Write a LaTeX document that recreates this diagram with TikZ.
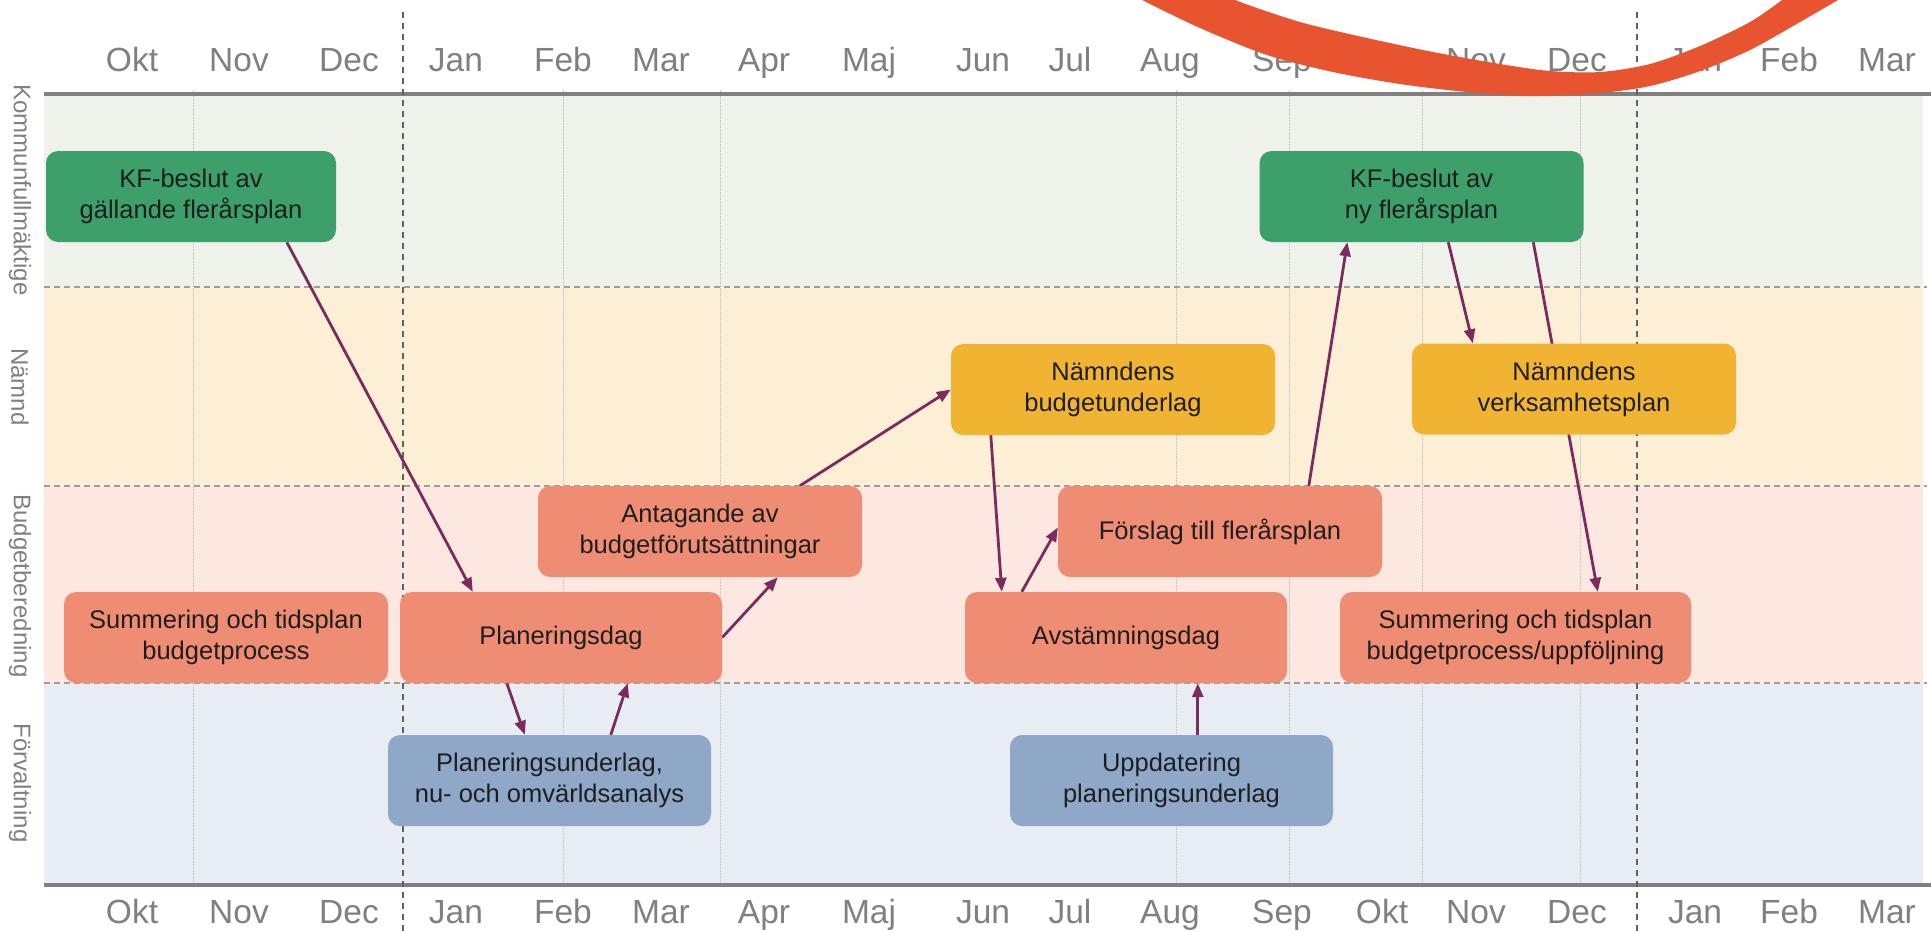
\documentclass[tikz,border=0pt]{standalone}
\usepackage{fontspec}
\setmainfont{Liberation Sans}
\usetikzlibrary{arrows.meta}
\definecolor{bandK}{HTML}{EFF2EB}
\definecolor{bandN}{HTML}{FCEFD6}
\definecolor{bandB}{HTML}{FCE8E1}
\definecolor{bandF}{HTML}{E8ECF3}
\definecolor{cgreen}{HTML}{3DA06B}
\definecolor{cyellow}{HTML}{F0B432}
\definecolor{csalmon}{HTML}{EF8D74}
\definecolor{cblue}{HTML}{8FA8C8}
\definecolor{carrow}{HTML}{7B2C5E}
\definecolor{cswoosh}{HTML}{E85430}
\definecolor{clabel}{HTML}{808080}
\definecolor{ctext}{HTML}{1E1E1E}
\pgfdeclarelayer{bg}
\pgfdeclarelayer{arr}
\pgfsetlayers{bg,arr,main}
\begin{document}
\begin{tikzpicture}[x=1pt,y=-1pt,
  box/.style={rounded corners=12pt, minimum width=324pt, minimum height=91pt, inner sep=0pt, align=center, text=ctext, font=\fontsize{25.5}{31}\selectfont},
  month/.style={anchor=base, text=clabel, font=\fontsize{33.5}{40}\selectfont},
  lane/.style={rotate=-90, text=clabel, font=\fontsize{24}{28}\selectfont},
  flow/.style={draw=carrow, line width=2.8pt, -{Triangle[length=14pt,width=11pt]}},
  divider/.style={draw=black!38, line width=1.6pt, dash pattern=on 6pt off 4pt},
  yearline/.style={draw=black!62, line width=1.4pt, dash pattern=on 6pt off 5pt},
  gridline/.style={draw=black!22, line width=1pt, dash pattern=on 1.5pt off 1.5pt},
  axisline/.style={draw=black!50, line width=4pt}
]
\useasboundingbox (0,0) rectangle (1931,932);

\begin{pgfonlayer}{bg}
\fill[white] (0,0) rectangle (1931,932);
\fill[bandK] (44,96) rectangle (1923,287);
\fill[bandN] (44,287) rectangle (1923,486);
\fill[bandB] (44,486) rectangle (1923,683);
\fill[bandF] (44,683) rectangle (1923,884);
\foreach \gx in {193,563,720,1176,1289,1422,1580}
  \draw[gridline] (\gx,90) -- (\gx,884);
\foreach \dy in {287,486,683}
  \draw[divider] (44,\dy) -- (1927,\dy);
\draw[axisline] (44,94) -- (1931,94);
\draw[axisline] (44,885) -- (1931,885);
\draw[yearline] (403,12) -- (403,932);
\draw[yearline] (1637,12) -- (1637,932);
\end{pgfonlayer}

% lane labels
\node[lane] (lk) at (20,190) {Kommunfullmäktige};
\node[lane] (ln) at (20,387) {Nämnd};
\node[lane] (lb) at (20,586) {Budgetberedning};
\node[lane] (lf) at (20,783) {Förvaltning};

% months
\foreach \mx/\mm [count=\i] in {132/Okt,239/Nov,349/Dec,456/Jan,563/Feb,661/Mar,764/Apr,869/Maj,983/Jun,1070/Jul,1170/Aug,1282/Sep,1382/Okt,1476/Nov,1577/Dec,1695/Jan,1789/Feb,1887/Mar}{
  \node[month] (mt\i) at (\mx,71) {\mm};
  \node[month] (mb\i) at (\mx,923) {\mm};
}

% boxes
\node[box, fill=cgreen, minimum width=290pt] (kfa) at (191,196.5) {KF-beslut av\\gällande flerårsplan};
\node[box, fill=cgreen] (kfb) at (1421.5,196.5) {KF-beslut av\\ny flerårsplan};
\node[box, fill=cyellow] (nb) at (1113,389.5) {Nämndens\\budgetunderlag};
\node[box, fill=cyellow] (nv) at (1574,389) {Nämndens\\verksamhetsplan};
\node[box, fill=csalmon] (ant) at (700,531.5) {Antagande av\\budgetförutsättningar};
\node[box, fill=csalmon] (fsl) at (1220,531.5) {Förslag till flerårsplan};
\node[box, fill=csalmon] (sum1) at (226,637.5) {Summering och tidsplan\\budgetprocess};
\node[box, fill=csalmon, minimum width=322pt] (pd) at (561,637.5) {Planeringsdag};
\node[box, fill=csalmon, minimum width=322pt] (avst) at (1126,637.5) {Avstämningsdag};
\node[box, fill=csalmon, minimum width=351pt] (sum2) at (1515.5,637.5) {Summering och tidsplan\\budgetprocess/uppföljning};
\node[box, fill=cblue, minimum width=323pt] (pu) at (549.5,780.5) {Planeringsunderlag,\\nu- och omvärldsanalys};
\node[box, fill=cblue, minimum width=323pt] (upd) at (1171.5,780.5) {Uppdatering\\planeringsunderlag};

% arrows
\begin{pgfonlayer}{arr}
\draw[flow] ([xshift=241pt]kfa.south west) -- ([xshift=73pt]pd.north west);
\draw[flow] ([xshift=107pt]pd.south west) -- ([xshift=137pt]pu.north west);
\draw[flow] ([xshift=223pt]pu.north west) -- ([xshift=228pt]pd.south west);
\draw[flow] (pd.east) -- ([xshift=240pt]ant.south west);
\draw[flow] ([xshift=262pt]ant.north west) -- (nb.west);
\draw[flow] ([xshift=40pt]nb.south west) -- ([xshift=37pt]avst.north west);
\draw[flow] ([xshift=57pt]avst.north west) -- ([yshift=4pt]fsl.west);
\draw[flow] ([xshift=251pt]fsl.north west) -- ([xshift=88pt]kfb.south west);
\draw[flow] ([xshift=189pt]kfb.south west) -- ([xshift=61pt]nv.north west);
\draw[flow] ([xshift=274pt]kfb.south west) -- ([xshift=258pt]sum2.north west);
\draw[flow] ([xshift=188pt]upd.north west) -- ([xshift=233pt]avst.south west);
\end{pgfonlayer}

% swoosh
\begin{scope}
\clip (0,0) rectangle (1931,932);
\fill[cswoosh] plot[smooth] coordinates {(1215,-12) (1235,0) (1300,22) (1367,38) (1433,52) (1500,64) (1550,71) (1600,72) (1650,64) (1700,46) (1750,22) (1782,0) (1795,-10)}
  -- plot[smooth] coordinates {(1855,-10) (1838,0) (1800,22) (1750,50) (1700,71) (1650,86) (1600,93) (1533,96) (1467,92) (1400,84) (1333,72) (1267,55) (1200,28) (1142,0) (1115,-14)} -- cycle;
\end{scope}
\end{tikzpicture}
\end{document}
